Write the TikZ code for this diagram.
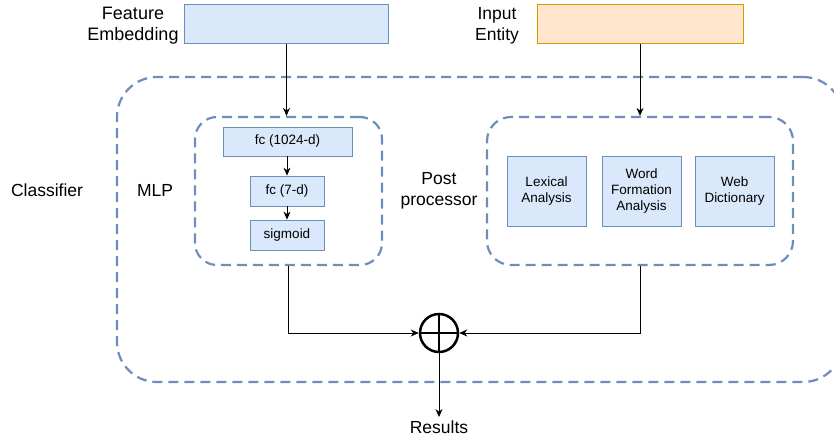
\documentclass[tikz,border=0pt]{standalone}
\usepackage{fontspec}
\setmainfont{Liberation Sans}
\usetikzlibrary{arrows.meta}

\definecolor{boxfill}{HTML}{DAE8FC}
\definecolor{boxline}{HTML}{6C8EBF}
\definecolor{inpfill}{HTML}{FFE6CC}
\definecolor{inpline}{HTML}{D79B00}

\tikzset{
  blk/.style={shape=rectangle, draw=boxline, fill=boxfill, line width=0.8pt,
    inner sep=0pt, align=center, font=\fontsize{13.5}{15.7}\selectfont},
  group/.style={shape=rectangle, draw=boxline, line width=2.2pt,
    dash pattern=on 10pt off 6pt, inner sep=0pt},
  lbl/.style={align=center, font=\fontsize{17.5}{21}\selectfont},
  arr/.style={-{Stealth[length=8pt,width=7pt]}, line width=0.8pt},
}

\begin{document}
\begin{tikzpicture}[x=1pt,y=-1pt]
	\clip (0,0) rectangle (834,439);
	\useasboundingbox (0,0) rectangle (834,439);

	% inputs
	\node[blk, minimum width=204, minimum height=39] (feat) at (286.5, 24) {};
	\node[blk, fill=inpfill, draw=inpline, minimum width=206, minimum height=39] (ent) at (640, 24) {};
	\node[lbl, font=\fontsize{18}{21}\selectfont] (featlbl) at (133, 26) {Feature\\Embedding};
	\node[lbl] (entlbl) at (497, 26) {Input\\Entity};

	% classifier and its two parts
	\node[group, rounded corners=40pt, minimum width=726, minimum height=305] (cls) at (480, 229.5) {};
	\node[group, rounded corners=22pt, minimum width=187, minimum height=148] (mlp) at (288.5, 191) {};
	\node[group, rounded corners=24pt, minimum width=306, minimum height=148] (post) at (640, 191) {};

	\node[lbl] (clslbl) at (47, 190) {Classifier};
	\node[lbl] (mlplbl) at (155, 190) {MLP};
	\node[lbl] (postlbl) at (439, 191) {Post\\processor};

	% MLP layers
	\node[blk, minimum width=129, minimum height=29] (fc1) at (287.5, 141.5) {fc (1024-d)};
	\node[blk, minimum width=74, minimum height=30] (fc2) at (287, 191) {fc (7-d)};
	\node[blk, minimum width=74, minimum height=30] (sig) at (287, 235) {sigmoid};

	% post processing steps
	\node[blk, minimum width=79, minimum height=70] (lex) at (546.5, 191) {Lexical\\Analysis};
	\node[blk, minimum width=79, minimum height=70] (word) at (641.5, 191) {Word\\Formation\\Analysis};
	\node[blk, minimum width=79, minimum height=70] (web) at (734.5, 191) {Web\\Dictionary};

	% merge
	\node[shape=circle, draw=black, line width=2.5pt, minimum size=38, inner sep=0pt] (sum) at (439, 333) {};
	\draw[line width=2.5pt] (sum.north) -- (sum.south);
	\draw[line width=2.5pt] (sum.west) -- (sum.east);
	\node[lbl] (res) at (439, 427) {Results};

	\path[arr] (feat) edge (feat |- mlp.north);
	\path[arr] (ent) edge (ent |- post.north);
	\path[arr] (fc1.south -| fc2) edge (fc2);
	\path[arr] (fc2) edge (sig);

	\draw[arr] (mlp.south) |- (sum.west);
	\draw[arr] (post.south) |- (sum.east);
	\draw[arr] (sum.south) -- (res.north);
\end{tikzpicture}
\end{document}
